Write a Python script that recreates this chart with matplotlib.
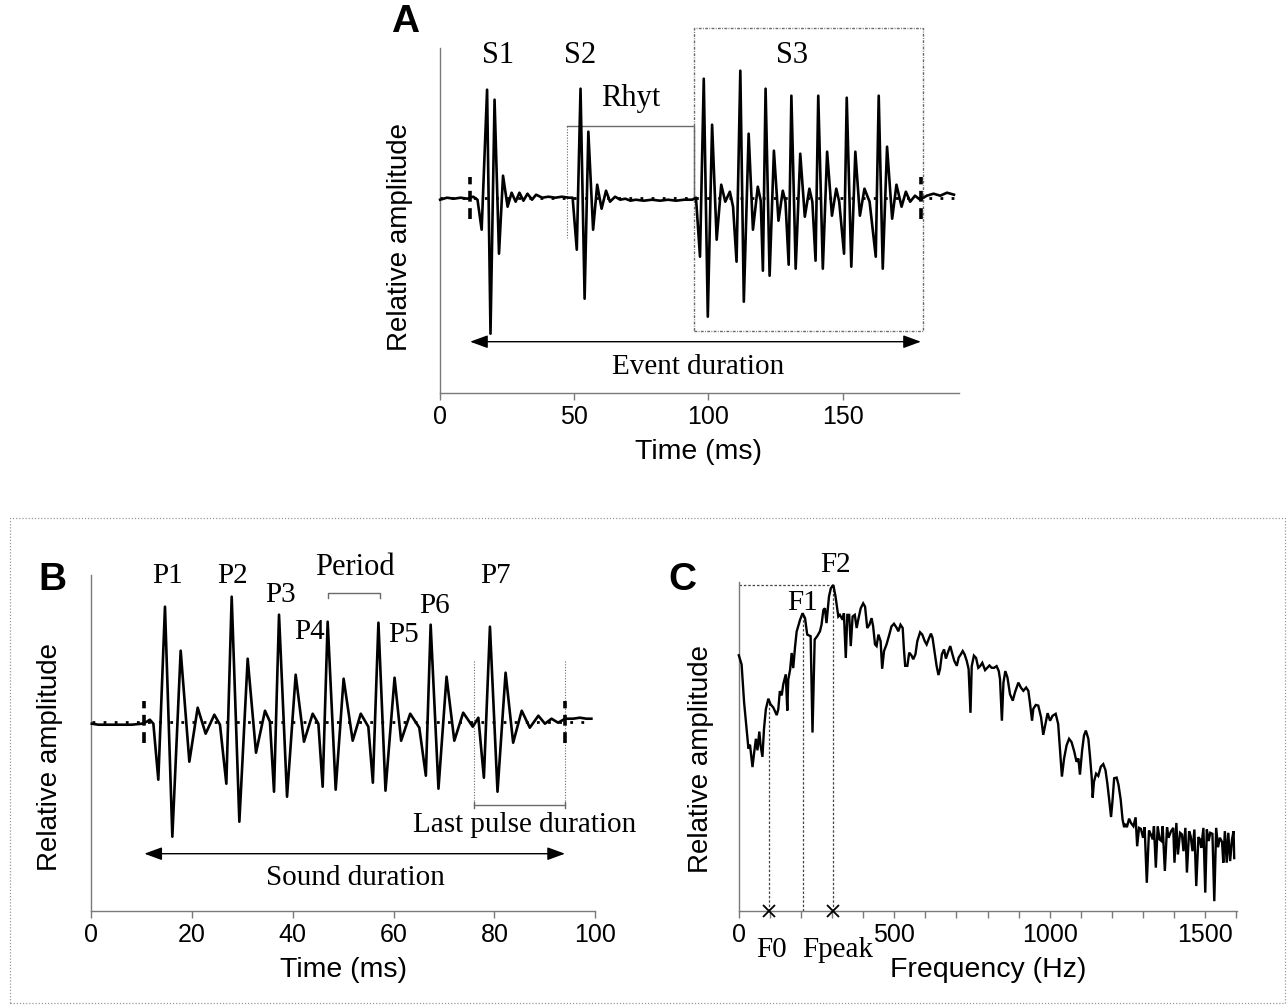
import matplotlib
matplotlib.use("Agg")
import matplotlib.pyplot as plt
from matplotlib.patches import Rectangle
from matplotlib.ticker import MultipleLocator

# ---------------- data ----------------
# Panel A: oscillogram of a whole event (time in ms, relative amplitude)
A_time = [0.2, 2.75, 5.3, 7.8, 10.3, 12.5, 14.1,
          15.65, 17.67, 18.94, 20.45, 22.1, 23.6, 25.3, 26.8, 28.3, 29.7, 31.2, 32.7, 34.4, 35.9, 38.2,
          40.5, 43.0, 45.5, 48.0, 49.5,
          51.05, 52.44, 53.96, 55.35, 57.12, 58.64, 60.28, 61.93, 63.4, 65.3, 67.2, 69.1, 71.0,
          73.0, 76.0, 79.0, 82.0, 85.0, 88.0, 91.0, 94.0, 95.4,
          96.9, 98.3, 99.8, 101.4, 103.1, 104.8, 106.3, 108.0, 109.2,
          110.5, 111.9, 113.2, 115.0, 116.6, 118.4, 119.5,
          120.3, 121.3, 122.8, 124.4, 126.1, 127.7, 128.7,
          129.9, 130.9, 132.5, 134.2, 135.9, 137.6, 138.7,
          139.9, 140.9, 142.6, 144.2, 146.0, 147.6, 148.7,
          150.5, 151.5, 153.2, 154.7, 156.4, 158.1, 160.0,
          162.3, 163.4, 164.9, 166.5, 168.4, 170.0, 171.9, 173.5, 175.1, 176.9, 178.8,
          181.3, 183.8, 186.3, 188.8, 191.4]
A_amp = [-0.02, 0.0, -0.01, 0.0, -0.01, 0.01, -0.02,
         -0.32, 1.08, -1.36, 0.98, -0.56, 0.22, -0.09, 0.05, -0.04, 0.05, -0.03, 0.04, -0.02, 0.03, 0.0,
         0.01, 0.0, 0.01, 0.0, 0.0,
         -0.52, 1.09, -1.01, 0.66, -0.32, 0.13, -0.11, 0.07, -0.04, 0.01, -0.02, -0.01, -0.03,
         -0.02, -0.03, -0.02, -0.03, -0.02, -0.03, -0.02, -0.02, 0.0,
         -0.59, 1.19, -1.19, 0.73, -0.42, 0.13, -0.04, 0.06, -0.09,
         -0.64, 1.27, -1.04, 0.64, -0.32, 0.11, -0.03,
         -0.73, 1.09, -0.78, 0.47, -0.23, 0.07, -0.04,
         -0.67, 1.02, -0.71, 0.44, -0.19, 0.09, -0.04,
         -0.63, 1.02, -0.71, 0.46, -0.18, 0.09, -0.04,
         -0.56, 1.00, -0.69, 0.46, -0.18, 0.09, -0.04,
         -0.59, 1.02, -0.71, 0.51, -0.21, 0.13, -0.09, 0.06, -0.04, 0.02, -0.02,
         0.02, 0.04, 0.02, 0.05, 0.03]
A_xticks = [0, 50, 100, 150]
A_segments = ["S1", "S2", "S3"]
A_event = [11.35, 179.1]          # event start / end (ms)
A_rhyt = [47.4, 94.8]             # rhythm bracket (ms)
A_s3_box = [94.8, 179.8]          # S3 segment (ms)

# Panel B: one sound made of 7 pulses
B_time = [0.2, 1.5, 2.8, 4.1, 5.5, 6.8, 8.1, 10.1, 11.1, 11.7, 12.4,
          13.38, 14.7, 16.16, 17.81, 19.53, 21.18, 22.76, 24.48, 25.6,
          26.86, 27.92, 29.44, 31.09, 32.74, 34.52, 35.5,
          36.31, 37.3, 38.89, 40.6, 42.25, 43.97, 45.1,
          45.95, 46.94, 48.53, 50.1, 51.9, 53.5, 55.0,
          55.9, 57.0, 58.4, 60.2, 61.5, 63.3, 65.1,
          66.4, 67.35, 68.9, 70.5, 72.04, 73.8, 75.7, 76.8,
          77.9, 79.1, 80.6, 82.2, 83.7, 85.4, 87.0, 88.7, 90.0, 91.3, 92.6, 94.0,
          95.6, 96.9, 98.2, 99.2]
B_amp = [-0.02, -0.03, -0.03, -0.03, -0.03, -0.03, -0.03, -0.02, 0.0, 0.02, -0.02,
         -0.58, 1.15, -1.15, 0.71, -0.40, 0.14, -0.12, 0.07, -0.03,
         -0.62, 1.25, -1.00, 0.63, -0.31, 0.11, 0.0,
         -0.70, 1.07, -0.75, 0.47, -0.20, 0.08, -0.02,
         -0.65, 1.00, -0.68, 0.43, -0.19, 0.08, -0.05,
         -0.61, 0.99, -0.69, 0.44, -0.19, 0.08, -0.06,
         -0.54, 0.97, -0.67, 0.45, -0.19, 0.09, -0.05, 0.04,
         -0.56, 0.95, -0.70, 0.49, -0.21, 0.11, -0.06, 0.06, -0.02, 0.03, -0.01, 0.03,
         0.03, 0.04, 0.03, 0.03]
B_xticks = [0, 20, 40, 60, 80, 100]
B_pulses = ["P1", "P2", "P3", "P4", "P5", "P6", "P7"]
B_sound = [10.61, 93.97]          # sound start / end (ms)
B_period = [47.1, 57.3]           # period bracket (ms)
B_last_pulse = [75.9, 94.0]       # last pulse (ms)

# Panel C: amplitude spectrum (Hz, relative amplitude)
C_freq = [0, 9, 17, 25, 31, 36, 44, 49, 55, 60, 66, 70, 76, 81, 87, 95, 102, 111, 122, 127,
          132, 138, 143, 151, 156, 159, 165, 170, 175, 181, 186, 197, 205, 213, 220, 227, 231, 237,
          244, 252, 261, 266, 272, 277, 282, 290, 296, 304, 311, 320, 325, 334, 338, 344, 349, 355,
          360, 366, 373, 379, 384, 392, 400, 406, 413, 420, 427, 432, 438, 443, 449, 456, 461, 467,
          475, 484, 491, 499, 508, 513, 520, 527, 531, 535, 542, 548, 555, 561, 568, 574, 583, 590,
          598, 604, 612, 618, 623, 630, 636, 642, 647, 653, 660, 666, 674, 680, 687, 693, 701, 707,
          714, 720, 726, 733, 739, 745, 749, 756, 763, 770, 776, 783, 792, 799, 806, 813, 821, 829,
          836, 840, 846, 851, 857, 864, 872, 881, 888, 899, 907, 915, 924, 931, 936, 943, 947, 955,
          963, 972, 979, 986, 993, 1001, 1009, 1019, 1027, 1033, 1039, 1046, 1054, 1062, 1070, 1079,
          1086, 1092, 1097, 1104, 1110, 1116, 1124, 1129, 1135, 1138, 1142, 1149, 1156, 1164, 1172,
          1179, 1185, 1191, 1197, 1202, 1207, 1215, 1221, 1228, 1234, 1239, 1243, 1248, 1255, 1261,
          1269, 1276, 1281, 1287, 1293, 1300, 1305, 1312, 1319, 1325, 1331, 1335, 1341, 1347, 1353,
          1359, 1363, 1370, 1377, 1382, 1390, 1397, 1401, 1407, 1412, 1419, 1425, 1430, 1436, 1441,
          1448, 1453, 1459, 1465, 1471, 1478, 1483, 1487, 1494, 1500, 1505, 1511, 1516, 1523, 1529,
          1535, 1541, 1547, 1554, 1558, 1563, 1569, 1574, 1580, 1586, 1591, 1593]
C_amp = [77.7, 74.9, 63.4, 55.3, 49.3, 50.5, 43.7, 47.8, 52.3, 48.8, 54.5, 50.3, 46.8, 55.3, 61.3,
         64.5, 62.8, 61.8, 59.5, 61.3, 66.8, 65.5, 68.9, 71.9, 60.9, 70.3, 73.3, 78.4, 73.8, 80.4,
         84.9, 88.5, 90.5, 89.0, 84.0, 83.7, 83.5, 54.2, 82.5, 83.5, 85.0, 87.0, 91.5, 92.0, 87.5,
         95.6, 98.1, 99.1, 95.6, 89.5, 90.0, 88.5, 90.5, 76.9, 90.0, 90.0, 80.5, 89.5, 90.0, 86.0,
         88.5, 92.0, 93.5, 92.5, 86.0, 87.0, 89.0, 86.5, 81.0, 80.5, 84.0, 82.0, 73.6, 79.0, 81.0,
         84.0, 86.5, 87.3, 86.0, 85.0, 87.0, 86.0, 79.5, 74.5, 74.5, 78.5, 77.7, 76.5, 78.0, 82.0,
         84.7, 84.0, 82.0, 81.0, 83.0, 84.3, 83.0, 78.5, 74.5, 71.7, 73.5, 78.0, 79.5, 76.7, 79.0,
         80.5, 78.0, 76.0, 74.5, 77.0, 78.0, 79.0, 78.0, 76.0, 73.5, 60.2, 74.4, 77.6, 76.9, 73.9,
         74.4, 75.4, 73.2, 73.9, 74.6, 73.9, 73.9, 74.4, 72.9, 70.4, 57.8, 69.4, 72.9, 70.9, 65.9,
         63.9, 66.4, 69.4, 67.9, 66.9, 67.9, 66.9, 63.4, 57.8, 61.4, 62.6, 62.4, 58.8, 53.5, 56.8,
         60.1, 57.8, 59.3, 59.9, 56.8, 48.8, 40.8, 46.3, 50.3, 52.3, 51.3, 48.3, 45.3, 46.3, 41.4,
         48.8, 53.3, 54.8, 52.3, 47.3, 40.3, 34.4, 39.2, 41.7, 41.0, 43.8, 44.6, 42.8, 38.8, 33.8,
         28.5, 33.8, 40.3, 40.5, 38.3, 33.8, 27.8, 25.4, 26.4, 25.4, 28.0, 26.7, 25.7, 28.4, 19.6,
         25.2, 24.9, 22.2, 25.4, 8.5, 24.4, 23.2, 21.7, 25.7, 13.1, 25.7, 21.7, 21.2, 25.7, 12.1,
         25.4, 22.2, 24.2, 25.2, 14.6, 26.7, 17.1, 23.7, 23.2, 18.1, 25.2, 11.6, 24.2, 22.7, 18.1,
         24.7, 7.5, 22.4, 21.7, 19.1, 25.2, 5.5, 24.7, 21.2, 23.7, 23.4, 2.9, 25.2, 19.3, 22.2,
         20.9, 14.6, 24.2, 14.6, 23.7, 15.1, 21.7, 24.2, 16.0]
C_major_ticks = [0, 500, 1000, 1500]
C_F_freq = [97, 205, 304]          # F0, F1, F2 (=Fpeak)
C_F_amp = [63.5, 90.5, 99.1]
C_F_labels = ["F0", "F1", "F2"]

# ---------------- drawing ----------------
W, H = 1287, 1008
fig = plt.figure(figsize=(W / 100, H / 100), dpi=100)
SANS = ['Liberation Sans', 'DejaVu Sans']
SERIF = ['Liberation Serif', 'DejaVu Serif']
plt.rcParams['font.family'] = SANS

SPINE = '#7a7a7a'
GRAY = '#6a6a6a'


def px_axes(l, t, r, b):
    return fig.add_axes([l / W, 1 - b / H, (r - l) / W, (b - t) / H])


def style(ax, xlim, ylim, ticks):
    ax.set_xlim(*xlim)
    ax.set_ylim(*ylim)
    for s in ('top', 'right'):
        ax.spines[s].set_visible(False)
    for s in ('left', 'bottom'):
        ax.spines[s].set_color(SPINE)
        ax.spines[s].set_linewidth(1.0)
    ax.set_yticks([])
    ax.set_xticks(ticks)
    ax.tick_params(axis='x', which='both', direction='out', length=5, width=1,
                   color=SPINE, labelsize=18, pad=3.5)
    ax.patch.set_alpha(0)


def stxt(ax, x, y, s, size=21):
    ax.text(x, y, s, fontsize=size, family=SERIF, ha='center', va='center',
            clip_on=False, zorder=6)


def marker(ax, t):
    ax.plot([t, t], [-0.21, 0.21], color='black', lw=2.6,
            linestyle=(0, (3, 1.8)), solid_capstyle='butt', zorder=5, clip_on=False)


def baseline(ax, x0, x1):
    ax.plot([x0, x1], [0, 0], color='black', lw=2.0, linestyle=(0, (1, 3)),
            zorder=4, clip_on=False)


def dbl_arrow(ax, x0, x1, y):
    ax.annotate('', xy=(x1, y), xytext=(x0, y),
                arrowprops=dict(arrowstyle='<|-|>,head_length=0.6,head_width=0.22',
                                mutation_scale=18, lw=1.0, color='black',
                                shrinkA=0, shrinkB=0),
                annotation_clip=False)


WAVE_LW = 1.9

# ---- Panel A ----
axA = px_axes(439.6, 48.3, 958.8, 392.7)
style(axA, (0, 193.2), (-1.95, 1.494), A_xticks)
axA.plot(A_time, A_amp, color='black', lw=WAVE_LW, solid_joinstyle='round', zorder=3, clip_on=False)
baseline(axA, 0.2, 191.4)
for t in A_event:
    marker(axA, t)
# Rhyt bracket
axA.plot([A_rhyt[0], A_rhyt[1], A_rhyt[1]], [0.717, 0.717, 0.0], color=GRAY, lw=1.0, zorder=2)
axA.plot([A_rhyt[0], A_rhyt[0]], [0.717, -0.407], color=GRAY, lw=0.8,
         linestyle=(0, (1, 1.5)), zorder=2)
# S3 box
axA.add_patch(Rectangle((A_s3_box[0], -1.333), A_s3_box[1] - A_s3_box[0], 1.70 + 1.333,
                        fill=False, ec=GRAY, lw=1.0, ls=(0, (2, 1, 0.6, 1)), clip_on=False, zorder=2))
for lab, x in zip(A_segments, [21.7, 52.1, 131.1]):
    stxt(axA, x, 1.427, lab, 22)
stxt(axA, 71.0, 0.993, "Rhyt", 22)
dbl_arrow(axA, A_event[0], A_event[1], -1.44)
stxt(axA, 96.3, -1.69, "Event duration", 21)

# ---- Panel B ----
axB = px_axes(90.8, 575, 595.4, 910.7)
style(axB, (0, 100), (-1.89, 1.467), B_xticks)
axB.plot(B_time, B_amp, color='black', lw=WAVE_LW, solid_joinstyle='round', zorder=3, clip_on=False)
baseline(axB, 0.2, 99.2)
for t in B_sound:
    marker(axB, t)
pulse_pos = [(15.3, 1.457), (28.1, 1.457), (37.5, 1.267), (43.4, 0.90),
             (61.9, 0.867), (68.1, 1.157), (80.2, 1.457)]
for lab, (x, y) in zip(B_pulses, pulse_pos):
    stxt(axB, x, y, lab, 21)
axB.plot([B_period[0], B_period[0], B_period[1], B_period[1]], [1.234, 1.284, 1.284, 1.234],
         color=GRAY, lw=1.0, clip_on=False)
stxt(axB, 52.3, 1.544, "Period", 22)
for t in B_last_pulse:
    axB.plot([t, t], [0.61, -0.833], color=GRAY, lw=0.8, linestyle=(0, (1, 1.5)), zorder=2)
axB.plot([B_last_pulse[0], B_last_pulse[1]], [-0.833, -0.833], color=GRAY, lw=1.0)
for t in B_last_pulse:
    axB.plot([t, t], [-0.80, -0.866], color=GRAY, lw=1.0)
stxt(axB, 86.0, -1.03, "Last pulse duration", 21)
dbl_arrow(axB, B_sound[0], B_sound[1], -1.32)
stxt(axB, 52.5, -1.563, "Sound duration", 21)

# ---- Panel C ----
axC = px_axes(738.8, 582, 1237.3, 910.7)
style(axC, (0, 1603), (0, 100), C_major_ticks)
axC.xaxis.set_minor_locator(MultipleLocator(100))
axC.plot(C_freq, C_amp, color='black', lw=1.7, solid_joinstyle='miter', zorder=3, clip_on=False)
for f, a in zip(C_F_freq, C_F_amp):
    axC.plot([f, f], [0, a], color='#444444', lw=0.9, linestyle=(0, (2, 1.5)), zorder=2)
axC.plot([0, C_F_freq[2]], [C_F_amp[2], C_F_amp[2]], color='#444444', lw=0.9,
         linestyle=(0, (2, 1.5)), zorder=2, clip_on=False)
axC.plot([C_F_freq[0], C_F_freq[2]], [0, 0], 'x', ms=8, mew=1.3, color='black',
         clip_on=False, zorder=6)
stxt(axC, 206.4, 93.7, C_F_labels[1], 21)
stxt(axC, 310.6, 105.2, C_F_labels[2], 21)
stxt(axC, 105, -12.0, C_F_labels[0], 21)
stxt(axC, 316.7, -12.0, "Fpeak", 21)

# ---- axis labels, panel letters, frame ----
def ftxt(x, y, s, **kw):
    fig.text(x / W, 1 - y / H, s, ha='center', va='center', **kw)

ftxt(698.8, 451.7, "Time (ms)", fontsize=20.5)
ftxt(343.1, 970, "Time (ms)", fontsize=20.5)
ftxt(988.0, 970, "Frequency (Hz)", fontsize=20.5)
ftxt(400, 237, "Relative amplitude", fontsize=20, rotation=90)
ftxt(50, 757, "Relative amplitude", fontsize=20, rotation=90)
ftxt(701, 759, "Relative amplitude", fontsize=20, rotation=90)
ftxt(405, 22, "A", fontsize=28, fontweight='bold')
ftxt(52, 580, "B", fontsize=28, fontweight='bold')
ftxt(682, 580, "C", fontsize=28, fontweight='bold')

fig.add_artist(Rectangle((10 / W, 1 - 1003 / H), (1285 - 10) / W, (1003 - 518) / H,
                         transform=fig.transFigure, fill=False, ec='#9a9a9a', lw=0.9,
                         ls=(0, (1, 1.5))))

fig.savefig("out.png", dpi=100)
